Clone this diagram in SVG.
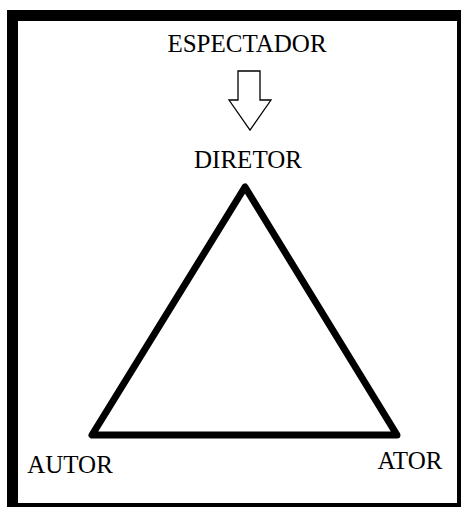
<svg xmlns="http://www.w3.org/2000/svg" width="461" height="507" viewBox="0 0 461 507">
  <style>
    .lbl { font-family: "Liberation Serif", "Times New Roman", serif; font-size: 25px; fill: #000; }
  </style>
  <rect x="0" y="0" width="461" height="507" fill="#fff"/>
  <g id="frame">
    <rect x="7" y="10" width="454" height="497" fill="#000"/>
    <rect x="18" y="21" width="439" height="482" fill="#fff"/>
  </g>
  <g id="espectador">
    <text class="lbl" x="247" y="52" text-anchor="middle">ESPECTADOR</text>
  </g>
  <g id="connectors">
    <path d="M238,71 L260,71 L260,100 L271,100 L250,130 L229,100 L238,100 Z" fill="#fff" stroke="#000" stroke-width="1.3" stroke-linejoin="miter"/>
    <path d="M245,187 L92,435 L397,435 Z" fill="none" stroke="#000" stroke-width="7" stroke-linejoin="round"/>
  </g>
  <g id="diretor">
    <text class="lbl" x="248" y="168" text-anchor="middle">DIRETOR</text>
  </g>
  <g id="autor">
    <text class="lbl" x="70" y="473" text-anchor="middle">AUTOR</text>
  </g>
  <g id="ator">
    <text class="lbl" x="410" y="469" text-anchor="middle">ATOR</text>
  </g>
</svg>
